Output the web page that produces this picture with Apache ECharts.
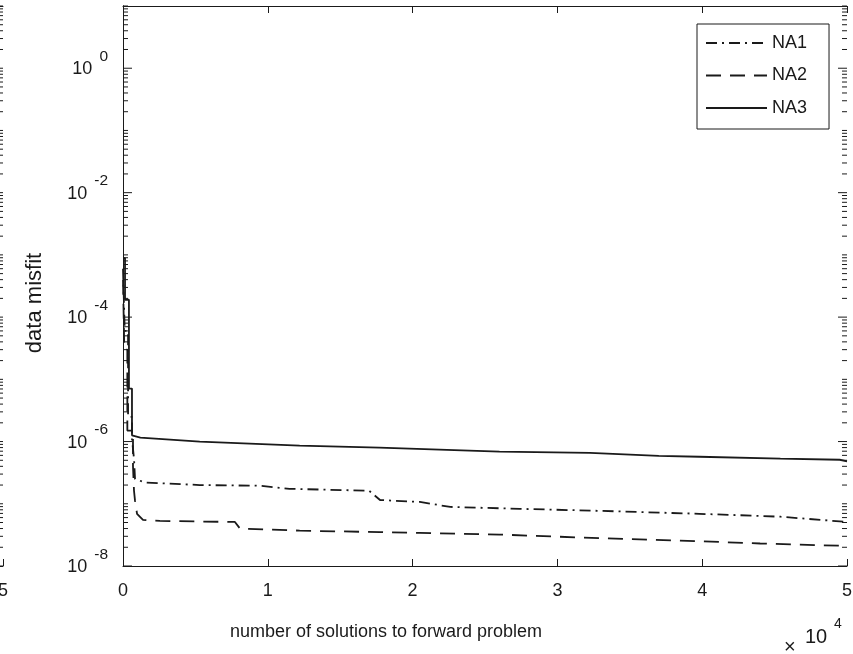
<!DOCTYPE html>
<html>
<head>
<meta charset="utf-8">
<script src="https://cdn.jsdelivr.net/npm/echarts@6/dist/echarts.min.js"></script>
<style>html,body{margin:0;padding:0;background:#fff}#c{width:853px;height:654px}</style>
</head>
<body>
<div id="c"></div>
<script>
// ---- data ----
var xNA1 = [0, 120, 120, 350, 350, 620, 620, 760, 830, 1520, 5300, 9460, 11500, 17000, 17750, 20500, 22600, 27400, 32900, 39800, 45400, 50000];
var yNA1 = [6e-4, 6e-4, 6e-5, 6e-5, 2.5e-6, 2.5e-6, 1.1e-6, 5.3e-7, 2.5e-7, 2.2e-7, 2.0e-7, 1.95e-7, 1.74e-7, 1.62e-7, 1.15e-7, 1.07e-7, 8.9e-8, 8.3e-8, 7.7e-8, 6.9e-8, 6.2e-8, 5.1e-8];
var xNA2 = [0, 90, 90, 300, 300, 690, 690, 760, 830, 970, 1380, 2550, 7730, 8080, 12200, 17750, 20500, 26000, 32900, 39800, 44000, 50000];
var yNA2 = [4e-4, 4e-4, 3e-5, 3e-5, 1.5e-6, 1.5e-6, 4e-7, 1.62e-7, 1.12e-7, 6.9e-8, 5.5e-8, 5.3e-8, 5.1e-8, 4.0e-8, 3.7e-8, 3.5e-8, 3.4e-8, 3.2e-8, 2.8e-8, 2.5e-8, 2.3e-8, 2.1e-8];
var xNA3 = [0, 140, 140, 410, 410, 620, 620, 1200, 5300, 12200, 17700, 26000, 32250, 37000, 39800, 45400, 49500, 50000];
var yNA3 = [8.9e-4, 8.9e-4, 1.9e-4, 1.9e-4, 7.1e-6, 7.1e-6, 1.26e-6, 1.16e-6, 1.0e-6, 8.6e-7, 8.0e-7, 6.9e-7, 6.6e-7, 5.9e-7, 5.7e-7, 5.3e-7, 5.1e-7, 4.8e-7];
var seriesNames = ['NA1', 'NA2', 'NA3'];
var xTickLabels = ['0', '1', '2', '3', '4', '5'];
var yLabelExps = [-8, -6, -4, -2, 0];
var yDecadeExps = [-8, -7, -6, -5, -4, -3, -2, -1, 0, 1];
var minorMults = [2, 3, 4, 5, 6, 7, 8, 9];

var FONT = 'Liberation Sans, Arial, sans-serif';
var INK = '#1a1a1a';

function pairs(xs, ys) { return xs.map(function (x, i) { return [x, ys[i]]; }); }

// y tick marks (value, length)
var yTicks = [];
yDecadeExps.forEach(function (e) {
  var major = yLabelExps.indexOf(e) >= 0;
  yTicks.push([Math.pow(10, e), major ? 9 : 5]);
  if (e < 1) minorMults.forEach(function (m) { yTicks.push([m * Math.pow(10, e), 5]); });
});

function tickSeries(xi, yi, xL, xR, showLeft, showRight) {
  return {
    type: 'custom', xAxisIndex: xi, yAxisIndex: yi, silent: true, clip: false, z: 5,
    data: yTicks.map(function (t) { return [xL, t[0], t[1]]; }),
    encode: { x: 0, y: 1 },
    renderItem: function (params, api) {
      var v = api.value(1), len = api.value(2);
      var pL = api.coord([xL, v]), pR = api.coord([xR, v]);
      var children = [];
      if (showLeft) children.push({ type: 'line', shape: { x1: pL[0], y1: pL[1], x2: pL[0] + len, y2: pL[1] }, style: { stroke: INK, lineWidth: 1 } });
      if (showRight) children.push({ type: 'line', shape: { x1: pR[0], y1: pR[1], x2: pR[0] - len, y2: pR[1] }, style: { stroke: INK, lineWidth: 1 } });
      return { type: 'group', children: children };
    }
  };
}

var chart = echarts.init(document.getElementById('c'), null, { renderer: 'canvas' });
var axisLineStyle = { lineStyle: { color: INK, width: 1 } };
var yLog = { type: 'log', logBase: 10, min: 1e-8, max: 10 };

var option = {
  animation: false,
  backgroundColor: '#fff',
  textStyle: { fontFamily: FONT },
  grid: [
    { left: 123, right: 6, top: 6, bottom: 88, outerBoundsMode: 'none', containLabel: false },
    { left: -700, width: 703, top: 6, bottom: 88, outerBoundsMode: 'none', containLabel: false }
  ],
  legend: {
    orient: 'vertical', left: 697, top: 24,
    data: seriesNames,
    itemWidth: 61, itemHeight: 14, itemGap: 14.5,
    padding: [10, 22, 12, 8],
    backgroundColor: '#fff', borderColor: INK, borderWidth: 1, borderRadius: 0,
    textStyle: { fontFamily: FONT, fontSize: 18, color: INK },
    itemStyle: { color: 'rgba(0,0,0,0)', borderColor: 'rgba(0,0,0,0)', borderWidth: 0, opacity: 0 },
    selectedMode: false
  },
  xAxis: [
    {
      gridIndex: 0, type: 'value', min: 0, max: 50000, interval: 10000, position: 'bottom',
      axisLine: axisLineStyle, axisTick: { inside: true, length: 7, lineStyle: { color: INK } },
      splitLine: { show: false },
      axisLabel: { fontFamily: FONT, fontSize: 18, color: INK, margin: 16,
        formatter: function (v) { return xTickLabels[Math.round(v / 10000)]; } },
      name: 'number of solutions to forward problem', nameLocation: 'middle', nameGap: 57,
      nameTextStyle: { fontFamily: FONT, fontSize: 18, color: INK, padding: [0, 198, 0, 0] }
    },
    {
      gridIndex: 0, type: 'value', min: 0, max: 50000, interval: 10000, position: 'top',
      axisLine: axisLineStyle, axisTick: { inside: true, length: 7, lineStyle: { color: INK } },
      splitLine: { show: false }, axisLabel: { show: false }
    },
    {
      gridIndex: 1, type: 'value', min: 0, max: 5, interval: 1, position: 'bottom',
      axisLine: axisLineStyle, axisTick: { inside: true, length: 7, lineStyle: { color: INK } },
      splitLine: { show: false },
      axisLabel: { fontFamily: FONT, fontSize: 18, color: INK, margin: 16 }
    },
    {
      gridIndex: 1, type: 'value', min: 0, max: 5, interval: 1, position: 'top',
      axisLine: axisLineStyle, axisTick: { show: false }, splitLine: { show: false }, axisLabel: { show: false }
    }
  ],
  yAxis: [
    Object.assign({}, yLog, {
      gridIndex: 0, position: 'left',
      axisLine: axisLineStyle, axisTick: { show: false }, splitLine: { show: false },
      axisLabel: {
        margin: 15, showMinLabel: true, showMaxLabel: true, padding: [21, 0, 0, 0],
        formatter: function (v) {
          var e = Math.round(Math.log10(v));
          if (yLabelExps.indexOf(e) < 0) return '';
          return '{b|10}{e|' + e + '}';
        },
        rich: {
          b: { fontFamily: FONT, fontSize: 18, color: INK, lineHeight: 20, verticalAlign: 'bottom', padding: [0, 0, 10.5, 0] },
          e: { fontFamily: FONT, fontSize: 15.5, color: INK, lineHeight: 16, verticalAlign: 'bottom', padding: [0, 0, 24, 7] }
        }
      },
      name: 'data misfit', nameLocation: 'middle', nameGap: 77,
      nameTextStyle: { fontFamily: FONT, fontSize: 22, color: INK, padding: [0, 34, 0, 0] }
    }),
    Object.assign({}, yLog, {
      gridIndex: 0, position: 'right',
      axisLine: axisLineStyle, axisTick: { show: false }, splitLine: { show: false }, axisLabel: { show: false }
    }),
    Object.assign({}, yLog, {
      gridIndex: 1, position: 'right',
      axisLine: axisLineStyle, axisTick: { show: false }, splitLine: { show: false }, axisLabel: { show: false }
    })
  ],
  graphic: [
    { type: 'text', left: 784, top: 637, style: { text: '\u00d7', font: '20px ' + FONT, fill: INK } },
    { type: 'text', left: 805, top: 627, style: { text: '10', font: '20px ' + FONT, fill: INK } },
    { type: 'text', left: 834, top: 617, style: { text: '4', font: '14px ' + FONT, fill: INK } }
  ],
  series: [
    { name: 'NA1', type: 'line', xAxisIndex: 0, yAxisIndex: 0, data: pairs(xNA1, yNA1), symbol: 'none', showSymbol: false,
      lineStyle: { color: INK, width: 1.8, type: [11, 5, 2, 5] }, itemStyle: { color: INK } },
    { name: 'NA2', type: 'line', xAxisIndex: 0, yAxisIndex: 0, data: pairs(xNA2, yNA2), symbol: 'none', showSymbol: false,
      lineStyle: { color: INK, width: 1.8, type: [15, 9] }, itemStyle: { color: INK } },
    { name: 'NA3', type: 'line', xAxisIndex: 0, yAxisIndex: 0, data: pairs(xNA3, yNA3), symbol: 'none', showSymbol: false,
      lineStyle: { color: INK, width: 1.8, type: 'solid' }, itemStyle: { color: INK } },
    tickSeries(0, 0, 0, 50000, true, true),
    tickSeries(2, 2, 0, 5, false, true)
  ]
};
chart.setOption(option);
</script>
</body>
</html>
